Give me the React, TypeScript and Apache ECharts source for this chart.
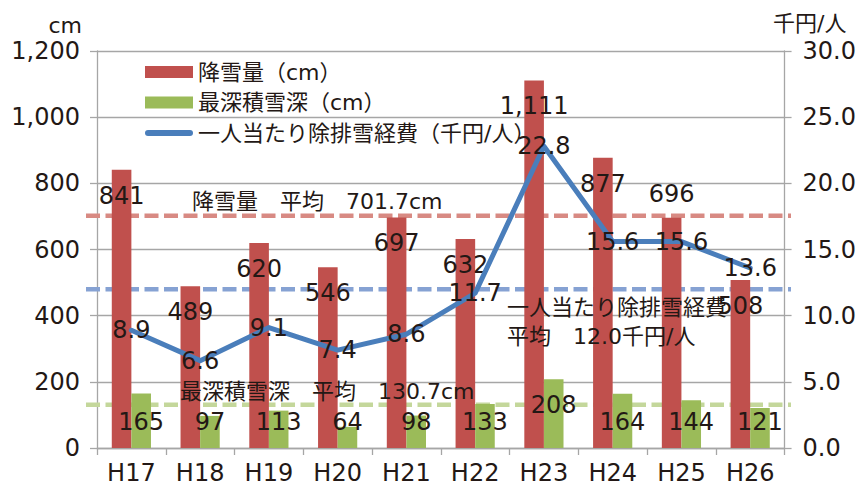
import React, { useEffect, useRef } from 'react';
import * as echarts from 'echarts';

const categories = ['H17', 'H18', 'H19', 'H20', 'H21', 'H22', 'H23', 'H24', 'H25', 'H26'];
const snowfall = [841, 489, 620, 546, 697, 632, 1111, 877, 696, 508];
const maxDepth = [165, 97, 113, 64, 98, 133, 208, 164, 144, 121];
const costPerPerson = [8.9, 6.6, 9.1, 7.4, 8.6, 11.7, 22.8, 15.6, 15.6, 13.6];

const snowfallAvg = 701.7;
const depthAvg = 130.7;
const costAvg = 12.0;

const seriesNames = ['降雪量（cm）', '最深積雪深（cm）', '一人当たり除排雪経費（千円/人）'];
const avgTexts = ['降雪量　平均　701.7cm', '最深積雪深　平均　130.7cm', '一人当たり除排雪経費', '平均　12.0千円/人'];
const leftUnit = 'cm';
const rightUnit = '千円/人';

const FONT = '"DejaVu Sans", "Noto Sans CJK JP", sans-serif';
const TEXT = '#231815';
const GRAY = '#A6A6A6';
const RED = '#C0504D';
const GREEN = '#9BBB59';
const BLUE = '#4A7EBB';

export default function App() {
  const ref = useRef<HTMLDivElement>(null);

  useEffect(() => {
    if (!ref.current) return;
    const chart = echarts.init(ref.current, null, { renderer: 'svg', width: 859, height: 486 });

    const redData = snowfall.map((v, i) =>
      i === 8
        ? { value: v, label: { position: 'top', distance: 12 } }
        : { value: v }
    );
    const greenData = maxDepth.map((v, i) =>
      i === 6 ? { value: v, label: { offset: [0, -17] } } : { value: v }
    );

    const option: any = {
      animation: false,
      backgroundColor: '#ffffff',
      textStyle: { fontFamily: FONT },
      grid: { left: 97, right: 74, top: 51, bottom: 38 },
      legend: {
        orient: 'vertical',
        left: 140,
        top: 56,
        itemWidth: 48,
        itemHeight: 12,
        itemGap: 8.5,
        symbolKeepAspect: true,
        textStyle: { fontSize: 22, color: TEXT, fontFamily: FONT, lineHeight: 22 },
        data: [
          { name: seriesNames[0], icon: 'rect' },
          { name: seriesNames[1], icon: 'rect' },
          {
            name: seriesNames[2],
            icon: 'path://M3,0 L45,0 A3,3 0 0 1 45,6 L3,6 A3,3 0 0 1 3,0 Z',
            itemStyle: { color: BLUE },
          },
        ],
      },
      xAxis: {
        type: 'category',
        data: categories,
        boundaryGap: true,
        axisLine: { show: true, lineStyle: { color: GRAY, width: 1.3 } },
        axisTick: { show: true, length: 7, lineStyle: { color: GRAY, width: 1.3 } },
        axisLabel: { fontSize: 24, color: TEXT, margin: 13, fontFamily: FONT },
      },
      yAxis: [
        {
          type: 'value',
          min: 0,
          max: 1200,
          interval: 200,
          axisLine: { show: true, lineStyle: { color: GRAY, width: 1.3 } },
          axisTick: { show: true, length: 7, lineStyle: { color: GRAY, width: 1.3 } },
          splitLine: { show: true, lineStyle: { color: GRAY, width: 1.3 } },
          axisLabel: {
            fontSize: 24,
            color: TEXT,
            margin: 17,
            fontFamily: FONT,
            formatter: (v: number) => v.toLocaleString('en-US'),
          },
        },
        {
          type: 'value',
          min: 0,
          max: 30,
          interval: 5,
          axisLine: { show: true, lineStyle: { color: GRAY, width: 1.3 } },
          axisTick: { show: true, length: 7, lineStyle: { color: GRAY, width: 1.3 } },
          splitLine: { show: false },
          axisLabel: {
            fontSize: 24,
            color: TEXT,
            margin: 18,
            fontFamily: FONT,
            formatter: (v: number) => v.toFixed(1),
          },
        },
      ],
      series: [
        {
          name: seriesNames[0],
          type: 'bar',
          data: redData,
          barGap: '0%',
          barCategoryGap: '43%',
          itemStyle: { color: RED },
          z: 3,
          label: {
            show: true,
            position: 'insideTop',
            distance: 14,
            fontSize: 24,
            color: TEXT,
            fontFamily: FONT,
            formatter: (p: any) => Number(p.value).toLocaleString('en-US'),
          },
        },
        {
          name: seriesNames[1],
          type: 'bar',
          data: greenData,
          barGap: '0%',
          barCategoryGap: '43%',
          itemStyle: { color: GREEN },
          z: 3,
          label: {
            show: true,
            position: 'insideBottom',
            distance: 14,
            fontSize: 24,
            color: TEXT,
            fontFamily: FONT,
          },
        },
        {
          name: seriesNames[2],
          type: 'line',
          yAxisIndex: 1,
          data: costPerPerson,
          symbol: 'circle',
          symbolSize: 1,
          itemStyle: { color: BLUE },
          lineStyle: { color: BLUE, width: 5, join: 'round', cap: 'round' },
          z: 4,
          label: {
            show: true,
            position: 'inside',
            fontSize: 24,
            color: TEXT,
            fontFamily: FONT,
            formatter: (p: any) => Number(p.value).toFixed(1),
          },
        },
      ],
    };

    chart.setOption(option);

    const yL = (v: number) => chart.convertToPixel({ yAxisIndex: 0 }, v) as number;
    const yR = (v: number) => chart.convertToPixel({ yAxisIndex: 1 }, v) as number;
    const x0 = 86;
    const x1 = 791;
    const ySnow = yL(snowfallAvg);
    const yDepth = yL(depthAvg);
    const yCost = yR(costAvg);

    const dash = (y: number, color: string) => ({
      type: 'line',
      z: 1,
      shape: { x1: x0, y1: y, x2: x1, y2: y },
      style: { stroke: color, lineWidth: 4.5, lineDash: [14, 5.5] },
    });
    const txt = (x: number, y: number, s: string, align = 'left') => ({
      type: 'text',
      z: 5,
      x,
      y,
      style: {
        text: s,
        fill: TEXT,
        fontSize: 22,
        fontFamily: FONT,
        align,
        verticalAlign: 'middle',
      },
    });

    chart.setOption({
      graphic: [
        dash(ySnow, '#D88A83'),
        dash(yDepth, '#C4D79B'),
        dash(yCost, '#86A2D3'),
        txt(192, ySnow - 14, avgTexts[0]),
        txt(180, yDepth - 13, avgTexts[1]),
        txt(507, yCost + 18, avgTexts[2]),
        txt(507, yCost + 47, avgTexts[3]),
        txt(82, 25, leftUnit, 'right'),
        txt(773, 23, rightUnit),
      ],
    });

    return () => chart.dispose();
  }, []);

  return (
    <div
      ref={ref}
      style={{ position: 'fixed', left: 0, top: 0, width: 859, height: 486, background: '#fff' }}
    />
  );
}
